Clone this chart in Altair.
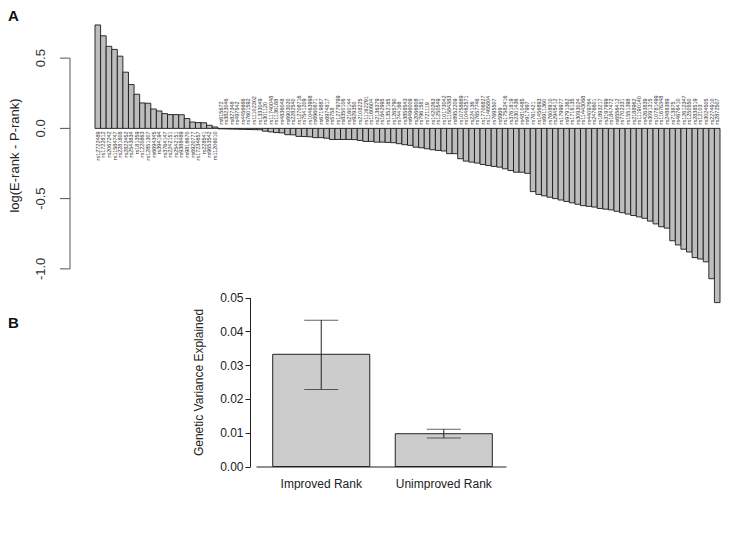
import altair as alt
import pandas as pd

FONT = "Liberation Sans"

# ---------------- Panel A data ----------------
snps_pos = ["rs12722489", "rs1722812", "rs2067242", "rs11584747", "rs2281808", "rs2822452",
            "rs2543834", "rs181359", "rs1220863", "rs12851307", "rs6694345", "rs394194",
            "rs3764147", "rs2242151", "rs2542151", "rs9388489", "rs9816670", "rs6920777",
            "rs17234657", "rs228541", "rs9653542", "rs11206010"]
vals_pos = [0.736, 0.659, 0.584, 0.562, 0.514, 0.40, 0.312, 0.243, 0.181, 0.179, 0.138, 0.124,
            0.105, 0.098, 0.098, 0.097, 0.07, 0.045, 0.041, 0.04, 0.022, 0.01]

snps_neg = ["rs615672", "rs3823046", "rs827348", "rs497542", "rs4456666", "rs7601592",
            "rs11102302", "rs1333049", "rs301120", "rs11740048", "rs1136188", "rs4836048",
            "rs6903020", "rs2282540", "rs12708716", "rs7541209", "rs10463998", "rs6960671",
            "rs6719887", "rs6974817", "rs5758", "rs12779799", "rs8350106", "rs2160144",
            "rs929350", "rs2108225", "rs11162291", "rs1160604", "rs2136379", "rs1642995",
            "rs1352165", "rs1265790", "rs744166", "rs3858543", "rs6496009", "rs2066808",
            "rs7961581", "rs721119", "rs1420263", "rs1250549", "rs10173042", "rs11584383",
            "rs8952209", "rs10758669", "rs10462571", "rs224136", "rs7657746", "rs17706827",
            "rs11465804", "rs7695507", "rs5969", "rs17582416", "rs3761819", "rs2301436",
            "rs4810485", "rs917997", "rs761421", "rs1456893", "rs6911360", "rs7608910",
            "rs2945412", "rs1799977", "rs9791362", "rs1716135", "rs3093024", "rs11443068",
            "rs4409764", "rs2476601", "rs1893217", "rs3197999", "rs1847472", "rs6556412",
            "rs7702331", "rs1551398", "rs2188962", "rs11190140", "rs4263839", "rs3091315",
            "rs10781499", "rs11676348", "rs2488389", "rs713875", "rs4676410", "rs12612347",
            "rs1250550", "rs2838519", "rs12103", "rs3024505", "rs2274910", "rs2872507"]
vals_neg = [-0.003, -0.004, -0.005, -0.006, -0.007, -0.008, -0.009, -0.010,
            -0.02, -0.025, -0.03, -0.032, -0.045, -0.046, -0.057, -0.058, -0.06, -0.066, -0.066, -0.07,
            -0.079, -0.079, -0.079, -0.079, -0.08, -0.086, -0.093, -0.093, -0.098, -0.098, -0.1,
            -0.102, -0.109, -0.116, -0.121, -0.134, -0.138, -0.145,
            -0.152, -0.157, -0.161, -0.18, -0.18, -0.216, -0.233, -0.24, -0.247, -0.257, -0.264,
            -0.271, -0.276, -0.288, -0.3, -0.312, -0.312, -0.32,
            -0.45, -0.47, -0.48, -0.49, -0.50, -0.51, -0.52, -0.53, -0.54, -0.55, -0.555, -0.56,
            -0.57, -0.575, -0.58, -0.59, -0.60, -0.61, -0.62, -0.63, -0.64, -0.66, -0.68, -0.70,
            -0.71, -0.80, -0.83, -0.86, -0.88, -0.92, -0.93, -0.95, -1.07, -1.24]

y_ticks_a = [-1.0, -0.5, 0.0, 0.5]
y_tick_labels_a = ["-1.0", "-0.5", "0.0", "0.5"]
y_title_a = "log(E-rank - P-rank)"

# ---------------- Panel B data ----------------
groups_b = ["Improved Rank", "Unimproved Rank"]
means_b = [0.0332, 0.0097]
lows_b = [0.0228, 0.0084]
highs_b = [0.0433, 0.0110]
y_ticks_b = [0.0, 0.01, 0.02, 0.03, 0.04, 0.05]
y_title_b = "Genetic Variance Explained"

# ---------------- geometry (plot origin = panel A plot area top-left) ----------------
A_W = 625
A_H = 281
B_Y_RANGE = [443.5, 274.5]      # pixel range of panel B value axis
B_X_RANGE = [161, 411]          # pixel range of panel B category axis

# ---------------- Panel A ----------------
snps = snps_pos + snps_neg
vals = vals_pos + vals_neg
dfA = pd.DataFrame({"snp": snps, "v": vals, "order": list(range(len(snps)))})
dfTicksA = pd.DataFrame({"v": y_ticks_a, "lab": y_tick_labels_a})
dfAxisA = pd.DataFrame({"v": [min(y_ticks_a)], "b": [max(y_ticks_a)]})

yscaleA = alt.Scale(domain=[-1.25, 0.75], nice=False, zero=False)
xA = alt.X("order:O", axis=None, scale=alt.Scale(paddingInner=0, paddingOuter=0))
yA = alt.Y("v:Q", scale=yscaleA, axis=None)

baseA = alt.Chart(dfA)
barsA = baseA.mark_bar(fill="#bdbdbd", stroke="#1a1a1a", strokeWidth=0.9).encode(x=xA, y=yA)
labNeg = baseA.transform_filter("datum.v < 0").mark_text(
    angle=270, align="left", baseline="middle", dx=4, fontSize=5.5, font=FONT, color="#333333"
).encode(x=xA, y=alt.datum(0), text="snp:N")
labPos = baseA.transform_filter("datum.v >= 0").mark_text(
    angle=270, align="right", baseline="middle", dx=-3, fontSize=5.5, font=FONT, color="#333333"
).encode(x=xA, y=alt.datum(0), text="snp:N")

axisLine = alt.Chart(dfAxisA).mark_rule(color="#555555", strokeWidth=1).encode(
    x=alt.value(-25), y=yA, y2="b:Q")
axisTicks = alt.Chart(dfTicksA).mark_rule(color="#555555", strokeWidth=1).encode(
    x=alt.value(-35), x2=alt.value(-25), y=yA)
axisLabels = alt.Chart(dfTicksA).mark_text(
    angle=270, align="center", baseline="bottom", fontSize=13, font=FONT, color="#333333"
).encode(x=alt.value(-47), y=yA, text="lab:N")

layerA = alt.layer(barsA, axisLine, axisTicks, axisLabels, labNeg, labPos)

# ---------------- Panel B ----------------
dfB = pd.DataFrame({"group": groups_b, "mean": means_b, "lo": lows_b, "hi": highs_b})
yscaleB = alt.Scale(domain=[0, 0.05], nice=False, range=B_Y_RANGE)
xaxisB = alt.Axis(title=None, labelAngle=0, ticks=False, labelPadding=12, orient="bottom",
                  offset=162.5, labelFontSize=12, labelFont=FONT, labelColor="#222222",
                  domainColor="#222222", grid=False)
xB = alt.X("group:N", sort=None,
           scale=alt.Scale(paddingInner=0.208, paddingOuter=0.124, align=0.55, range=B_X_RANGE),
           axis=xaxisB)
yaxisB = alt.Axis(values=y_ticks_b, format=".2f", title=y_title_b, grid=False, orient="left",
                  offset=-155, labelFontSize=12, labelFont=FONT, labelColor="#222222",
                  tickSize=5, labelPadding=2, tickColor="#222222", domainColor="#222222",
                  titleFont=FONT, titleFontSize=12, titleFontWeight="normal",
                  titleColor="#222222", titlePadding=14, labelOverlap=False)

baseB = alt.Chart(dfB)
barsB = baseB.mark_bar(fill="#cccccc", stroke="#222222", strokeWidth=1).encode(
    x=xB, y=alt.Y("mean:Q", scale=yscaleB, axis=yaxisB))
errB = baseB.mark_rule(color="#222222", strokeWidth=1).encode(
    x=xB, y=alt.Y("lo:Q", scale=yscaleB, axis=yaxisB), y2="hi:Q")
capHi = baseB.mark_tick(size=34, thickness=1, color="#222222", orient="horizontal").encode(
    x=xB, y=alt.Y("hi:Q", scale=yscaleB, axis=yaxisB))
capLo = baseB.mark_tick(size=34, thickness=1, color="#222222", orient="horizontal").encode(
    x=xB, y=alt.Y("lo:Q", scale=yscaleB, axis=yaxisB))
layerB = alt.layer(barsB, errB, capHi, capLo)

# ---------------- free text ----------------
titleA = alt.Chart(pd.DataFrame({"t": [y_title_a]})).mark_text(
    angle=270, align="center", baseline="top", fontSize=13, font=FONT, color="#222222"
).encode(x=alt.value(-86), y=alt.value(132.5), text="t:N")
letterA = alt.Chart(pd.DataFrame({"t": ["A"]})).mark_text(
    align="left", baseline="top", fontSize=15, fontWeight="bold", font=FONT, color="#111111"
).encode(x=alt.value(-87), y=alt.value(-14.5), text="t:N")
letterB = alt.Chart(pd.DataFrame({"t": ["B"]})).mark_text(
    align="left", baseline="top", fontSize=15, fontWeight="bold", font=FONT, color="#111111"
).encode(x=alt.value(-87), y=alt.value(293), text="t:N")

chart = alt.layer(layerA, layerB, titleA, letterA, letterB).resolve_scale(
    x="independent", y="independent"
).properties(width=A_W, height=A_H, padding=0).configure_view(stroke=None).configure_axis(
    labelFont=FONT, titleFont=FONT)

chart.save("out.html", embed_options={"renderer": "svg", "actions": False})
